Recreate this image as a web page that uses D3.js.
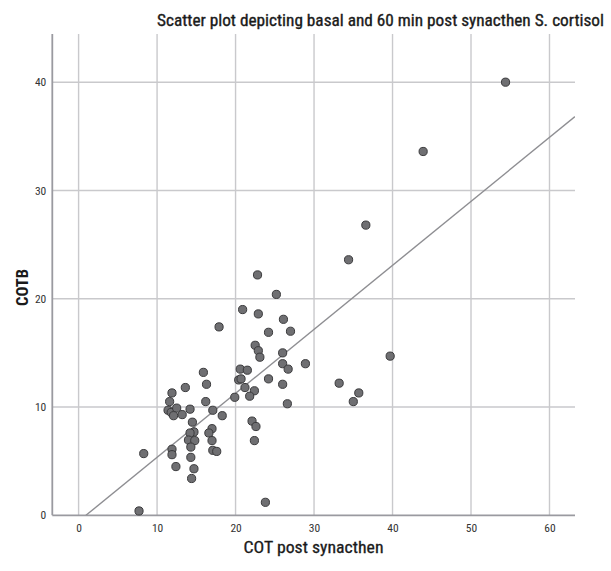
<!DOCTYPE html>
<html>
<head>
<meta charset="utf-8">
<script src="https://cdn.jsdelivr.net/npm/d3@7"></script>
<style>
  html, body { margin: 0; padding: 0; background: #ffffff; }
  svg { display: block; }
</style>
</head>
<body>
<svg id="chart" width="611" height="571"></svg>
<script>
// ---- data ----
const cotPost = [54.4, 43.9, 36.6, 34.4, 22.8, 25.2, 20.9, 22.9, 26.1, 17.9,
  24.2, 27.0, 22.5, 22.9, 23.1, 26.0, 26.0, 26.7, 28.9, 20.6,
  21.5, 20.4, 20.7, 24.2, 21.2, 26.0, 22.4, 21.8, 19.9, 26.6,
  22.1, 22.6, 22.4, 39.7, 33.2, 35.7, 35.0, 15.9, 13.6, 16.3,
  11.9, 11.6, 16.2, 11.4, 11.8, 12.5, 12.1, 13.2, 14.2, 17.1,
  18.3, 14.5, 17.0, 16.6, 14.7, 14.2, 14.0, 14.8, 17.0, 14.3,
  11.9, 11.9, 17.1, 17.6, 14.3, 12.4, 14.7, 14.4, 8.3, 7.7, 23.8];
const cotb = [40.0, 33.6, 26.8, 23.6, 22.2, 20.4, 19.0, 18.6, 18.1, 17.4,
  16.9, 17.0, 15.7, 15.2, 14.6, 15.0, 14.0, 13.5, 14.0, 13.5,
  13.4, 12.5, 12.6, 12.6, 11.8, 12.1, 11.5, 11.0, 10.9, 10.3,
  8.7, 8.2, 6.9, 14.7, 12.2, 11.3, 10.5, 13.2, 11.8, 12.1,
  11.3, 10.5, 10.5, 9.7, 9.5, 9.9, 9.2, 9.3, 9.8, 9.7,
  9.2, 8.6, 8.0, 7.6, 7.7, 7.6, 6.95, 6.9, 6.9, 6.3,
  6.1, 5.6, 6.0, 5.9, 5.35, 4.5, 4.3, 3.4, 5.7, 0.4, 1.2];
const xTicks = [0, 10, 20, 30, 40, 50, 60];
const yTicks = [0, 10, 20, 30, 40];
const fitIntercept = -0.556;
const fitSlope = 0.591;
const xDomain = [-3.35, 63.25];
const yDomain = [0, 44.45];
const titleText = "Scatter plot depicting basal and 60 min post synacthen S. cortisol";
const xLabel = "COT post synacthen";
const yLabel = "COTB";

// ---- layout ----
const svg = d3.select("#chart");
const mLeft = 52.3, mRight = 575, mTop = 34, mBottom = 515.3;
const x = d3.scaleLinear().domain(xDomain).range([mLeft, mRight]);
const y = d3.scaleLinear().domain(yDomain).range([mBottom, mTop]);
const narrow = "'Liberation Sans Narrow', 'Arial Narrow', 'Roboto Condensed', Arial, sans-serif";

// gridlines
const grid = svg.append("g");
grid.selectAll("line.vx").data(xTicks).join("line")
  .attr("x1", d => x(d)).attr("x2", d => x(d))
  .attr("y1", mTop).attr("y2", mBottom)
  .attr("stroke", "#c9c9cc").attr("stroke-width", 1.4);
grid.selectAll("line.hy").data(yTicks.filter(d => d > 0)).join("line")
  .attr("x1", mLeft).attr("x2", mRight)
  .attr("y1", d => y(d)).attr("y2", d => y(d))
  .attr("stroke", "#c9c9cc").attr("stroke-width", 1.4);

// axes via d3 axes (no tick lines, domain restyled)
const xAxis = svg.append("g").attr("transform", `translate(0,${mBottom})`)
  .call(d3.axisBottom(x).tickValues(xTicks).tickSize(0).tickPadding(9));
const yAxis = svg.append("g").attr("transform", `translate(${mLeft},0)`)
  .call(d3.axisLeft(y).tickValues(yTicks).tickSize(0).tickPadding(6));
[xAxis, yAxis].forEach(a => {
  a.select(".domain").attr("stroke", "#9a9aa0").attr("stroke-width", 1.8);
  a.selectAll("text").attr("font-family", narrow).attr("font-size", 11.5).attr("fill", "#333");
});
xAxis.select(".domain").attr("d", `M${mLeft},0H${mRight}`);
yAxis.select(".domain").attr("d", `M0,${mTop}V${mBottom}`);

// fit line (clipped to plot area)
svg.append("clipPath").attr("id", "plotclip").append("rect")
  .attr("x", mLeft).attr("y", mTop).attr("width", mRight - mLeft).attr("height", mBottom - mTop);
const fx0 = -fitIntercept / fitSlope, fx1 = xDomain[1];
svg.append("line")
  .attr("clip-path", "url(#plotclip)")
  .attr("x1", x(fx0)).attr("y1", y(fitIntercept + fitSlope * fx0))
  .attr("x2", x(fx1)).attr("y2", y(fitIntercept + fitSlope * fx1))
  .attr("stroke", "#8e8e92").attr("stroke-width", 1.4);

// points
svg.append("g").selectAll("circle").data(cotPost.map((v, i) => [v, cotb[i]])).join("circle")
  .attr("cx", d => x(d[0])).attr("cy", d => y(d[1]))
  .attr("r", 4.1)
  .attr("fill", "#6f6f72").attr("stroke", "#3a3a3c").attr("stroke-width", 1);

// title
svg.append("text").attr("x", 157).attr("y", 26)
  .attr("font-family", narrow).attr("font-size", 16.5).attr("fill", "#1a1a1a")
  .attr("stroke", "#1a1a1a").attr("stroke-width", 0.35)
  .attr("textLength", 447).attr("lengthAdjust", "spacingAndGlyphs")
  .text(titleText);

// axis titles
svg.append("text").attr("x", 243.5).attr("y", 553)
  .attr("font-family", narrow).attr("font-size", 16.5).attr("fill", "#1a1a1a")
  .attr("stroke", "#1a1a1a").attr("stroke-width", 0.3)
  .attr("textLength", 140).attr("lengthAdjust", "spacingAndGlyphs")
  .text(xLabel);
svg.append("text").attr("transform", "translate(28,306) rotate(-90)")
  .attr("font-family", narrow).attr("font-size", 16).attr("font-weight", "bold").attr("fill", "#1a1a1a")
  .attr("textLength", 37).attr("lengthAdjust", "spacingAndGlyphs")
  .text(yLabel);
</script>
</body>
</html>
